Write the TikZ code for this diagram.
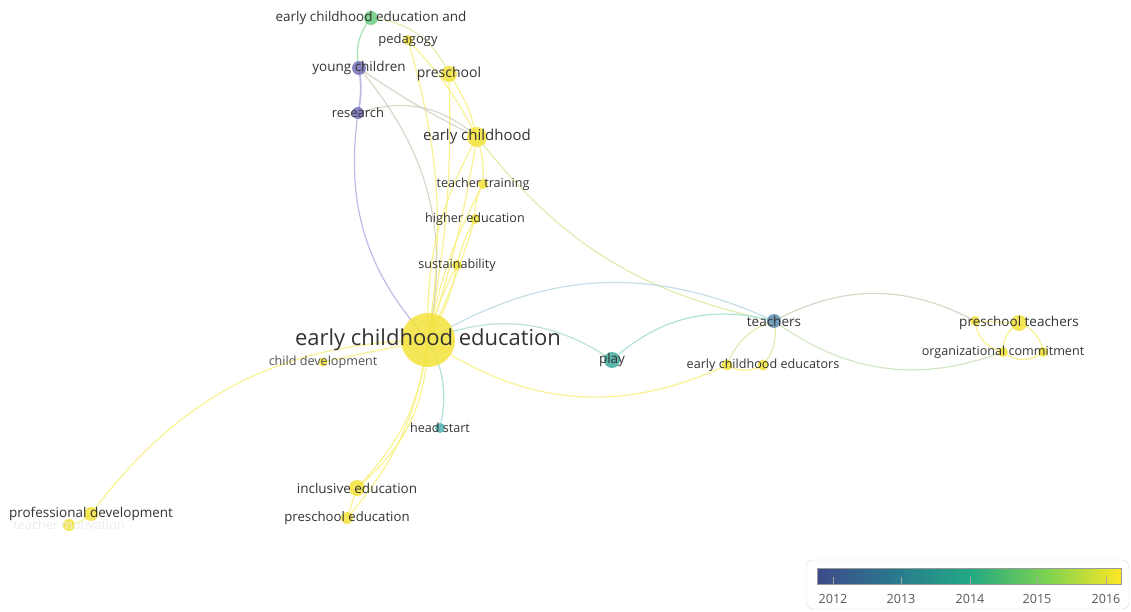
\documentclass[tikz,border=0pt]{standalone}
\usepackage{fontspec}
\setmainfont{Open Sans}
\usetikzlibrary{backgrounds}

\definecolor{nyel}{HTML}{F2E23A}
\definecolor{ngrn}{HTML}{6CCB80}
\definecolor{npur}{HTML}{7470BA}
\definecolor{ntea}{HTML}{3FA99C}
\definecolor{nhst}{HTML}{52B0B3}
\definecolor{nblu}{HTML}{5D8FB4}
\definecolor{eyel}{HTML}{F8F07E}
\definecolor{epur}{HTML}{B3AFE2}
\definecolor{etea}{HTML}{A3DCD6}
\definecolor{egry}{HTML}{D3CFBE}
\definecolor{elim}{HTML}{D9EAA2}
\definecolor{esky}{HTML}{BBD8E2}
\definecolor{txt}{HTML}{333333}
\definecolor{vira}{HTML}{3E4A89}
\definecolor{virb}{HTML}{2A788E}
\definecolor{virc}{HTML}{22A884}
\definecolor{vird}{HTML}{7AD151}
\definecolor{vire}{HTML}{FDE725}

\pgfdeclarehorizontalshading{viridisbar}{100bp}{color(0bp)=(vira); color(25bp)=(vira);
  color(37.5bp)=(virb); color(50bp)=(virc); color(62.5bp)=(vird); color(75bp)=(vire); color(100bp)=(vire)}

\tikzset{
  bub/.style={circle, inner sep=0pt, fill opacity=0.85, draw=none},
  lab/.style={text=txt, inner sep=0pt, font=\fontsize{12.6}{12.6}\selectfont},
  labl/.style={lab, font=\fontsize{13.5}{13.5}\selectfont},
  labm/.style={lab, font=\fontsize{15}{15}\selectfont},
  lnk/.style={line width=1.2pt, draw opacity=0.85},
}

\begin{document}
\begin{tikzpicture}[x=1pt, y=-1pt]
	\useasboundingbox (0,0) rectangle (1131,612);

	% items
	\node[bub, minimum size=54, fill=nyel] (ece) at (428,340) {};
	\node[bub, minimum size=14, fill=ngrn] (ecep) at (371,18) {};
	\node[bub, minimum size=10, fill=nyel] (ped) at (408,40) {};
	\node[bub, minimum size=14, fill=npur] (yc) at (359,68) {};
	\node[bub, minimum size=16, fill=nyel] (pre) at (449,74) {};
	\node[bub, minimum size=12, fill=npur] (res) at (358,113) {};
	\node[bub, minimum size=20, fill=nyel] (ec) at (477,137) {};
	\node[bub, minimum size=10, fill=nyel] (tt) at (483,184) {};
	\node[bub, minimum size=10, fill=nyel] (he) at (475,219) {};
	\node[bub, minimum size=10, fill=nyel] (sus) at (457,265) {};
	\node[bub, minimum size=9, fill=nyel] (cd) at (323,362) {};
	\node[bub, minimum size=16, fill=ntea] (play) at (612,360) {};
	\node[bub, minimum size=14, fill=nblu] (tch) at (774,321) {};
	\node[bub, minimum size=11, fill=nyel] (eceda) at (727,365) {};
	\node[bub, minimum size=11, fill=nyel] (ecedb) at (763,365) {};
	\node[bub, minimum size=10, fill=nyel] (pta) at (975,321) {};
	\node[bub, minimum size=16, fill=nyel] (ptb) at (1019,323) {};
	\node[bub, minimum size=10, fill=nyel] (oca) at (1003,352) {};
	\node[bub, minimum size=10, fill=nyel] (ocb) at (1043,352) {};
	\node[bub, minimum size=10, fill=nhst] (hs) at (440,428) {};
	\node[bub, minimum size=16, fill=nyel] (inc) at (357,488) {};
	\node[bub, minimum size=12, fill=nyel] (pse) at (347,518) {};
	\node[bub, minimum size=14, fill=nyel] (pd) at (91,514) {};
	\node[bub, minimum size=12, fill=nyel] (tm) at (69,525) {};

	% links
	\begin{pgfonlayer}{background}
	\draw[lnk, ngrn!70] (ecep.center) to[bend right=25] (yc.center);
	\draw[lnk, elim] (ecep.center) to[bend left=30] (pre.center);
	\draw[lnk, eyel] (ped.center) to[bend left=12] (ece.center);
	\draw[lnk, eyel] (ped.center) to[bend left=8] (ec.center);
	\draw[lnk, eyel] (pre.center) to[bend left=6] (ece.center);
	\draw[lnk, eyel] (pre.center) to[bend left=10] (ec.center);
	\draw[lnk, epur, line width=1.8pt] (yc.center) to[bend left=10] (res.center);
	\draw[lnk, epur] (res.center) to[bend right=25] (ece.center);
	\draw[lnk, egry] (yc.center) to[bend left=26] (ece.center);
	\draw[lnk, egry] (yc.center) to[bend right=4] (ec.center);
	\draw[lnk, egry] (res.center) to[bend left=30] (ec.center);
	\draw[lnk, eyel] (ec.center) to[bend right=15] (ece.center);
	\draw[lnk, eyel] (ec.center) to[bend left=4] (ece.center);
	\draw[lnk, eyel] (ec.center) to[bend left=10] (tt.center);
	\draw[lnk, eyel] (tt.center) to[bend right=15] (he.center);
	\draw[lnk, eyel] (tt.center) to[bend right=8] (ece.center);
	\draw[lnk, eyel] (he.center) to[bend right=8] (sus.center);
	\draw[lnk, eyel] (he.center) to[bend left=4] (ece.center);
	\draw[lnk, eyel] (sus.center) to[bend right=6] (ece.center);
	\draw[lnk, eyel] (sus.center) to[bend left=10] (ece.center);
	\draw[lnk, elim] (ec.center) to[bend right=20] (tch.center);
	\draw[lnk, esky] (ece.center) to[bend left=28] (tch.center);
	\draw[lnk, etea!80!elim] (ece.center) to[bend left=28] (play.center);
	\draw[lnk, etea] (play.center) to[bend left=28] (tch.center);
	\draw[lnk, eyel] (ece.center) to[bend right=30] (eceda.center);
	\draw[lnk, elim] (tch.center) to[bend right=25] (eceda.center);
	\draw[lnk, elim] (tch.center) to[bend left=25] (ecedb.center);
	\draw[lnk, eyel] (eceda.center) to[bend right=30] (ecedb.center);
	\draw[lnk, egry] (tch.center) to[bend left=28] (pta.center);
	\draw[lnk, elim!60!esky] (tch.center) to[bend right=28] (oca.center);
	\draw[lnk, eyel] (pta.center) to (ptb.center);
	\draw[lnk, eyel] (pta.center) to[bend right=35] (oca.center);
	\draw[lnk, eyel] (ptb.center) to[bend right=30] (oca.center);
	\draw[lnk, eyel] (ptb.center) to[bend left=30] (ocb.center);
	\draw[lnk, eyel] (oca.center) to[bend right=40] (ocb.center);
	\draw[lnk, etea] (ece.center) to[bend left=20] (hs.center);
	\draw[lnk, eyel] (ece.center) to[bend left=18] (inc.center);
	\draw[lnk, eyel] (ece.center) to[bend left=24] (inc.center);
	\draw[lnk, eyel] (ece.center) to[bend left=16] (pse.center);
	\draw[lnk, eyel] (inc.center) to (pse.center);
	\draw[lnk, eyel] (pd.center) to[bend left=26] (ece.center);
	\draw[lnk, eyel] (cd.center) to (ece.center);
	\draw[lnk, eyel] (tm.center) to[bend right=15] (pd.center);
	\end{pgfonlayer}

	% labels
	\node[lab, font=\fontsize{22}{22}\selectfont] (ece-l) at (ece) {early childhood education};
	\node[labl] (ecep-l) at (ecep) {early childhood education and};
	\node[lab, font=\fontsize{13}{13}\selectfont] (ped-l) at (ped) {pedagogy};
	\node[labl] (yc-l) at (yc) {young children};
	\node[labm, font=\fontsize{14}{14}\selectfont] (pre-l) at (pre) {preschool};
	\node[lab, font=\fontsize{13}{13}\selectfont] (res-l) at (res) {research};
	\node[labm] (ec-l) at (ec) {early childhood};
	\node[lab] (tt-l) at (tt) {teacher training};
	\node[lab] (he-l) at (he) {higher education};
	\node[lab] (sus-l) at (sus) {sustainability};
	\node[lab, text=txt!85] (cd-l) at (cd) {child development};
	\node[labl] (play-l) at (play) {play};
	\node[labl] (tch-l) at (tch) {teachers};
	\node[lab] (eced-l) at (ecedb) {early childhood educators};
	\node[labl] (pt-l) at (ptb) {preschool teachers};
	\node[lab] (oc-l) at (oca) {organizational commitment};
	\node[lab] (hs-l) at (hs) {head start};
	\node[labl] (inc-l) at (inc) {inclusive education};
	\node[lab, font=\fontsize{13.2}{13.2}\selectfont] (pse-l) at (pse) {preschool education};
	\node[labl] (pd-l) at (pd) {professional development};
	\node[lab, text=black!8] (tm-l) at (tm) {teacher motivation};

	% legend
	\draw[rounded corners=7pt, draw=black!15, fill=white] (806,560) rectangle (1129,609);
	\shade[shading=viridisbar] (817,568) rectangle (1121,584);
	\draw[black!40] (817,568) rectangle (1121,584);
	\foreach \yr/\xp in {2012/833, 2013/901, 2014/970, 2015/1037, 2016/1106}{
		\draw[black!35] (\xp,577) -- (\xp,584);
		\node[lab, text=black!65] (yr\yr) at (\xp,599) {\yr};
	}
\end{tikzpicture}
\end{document}
